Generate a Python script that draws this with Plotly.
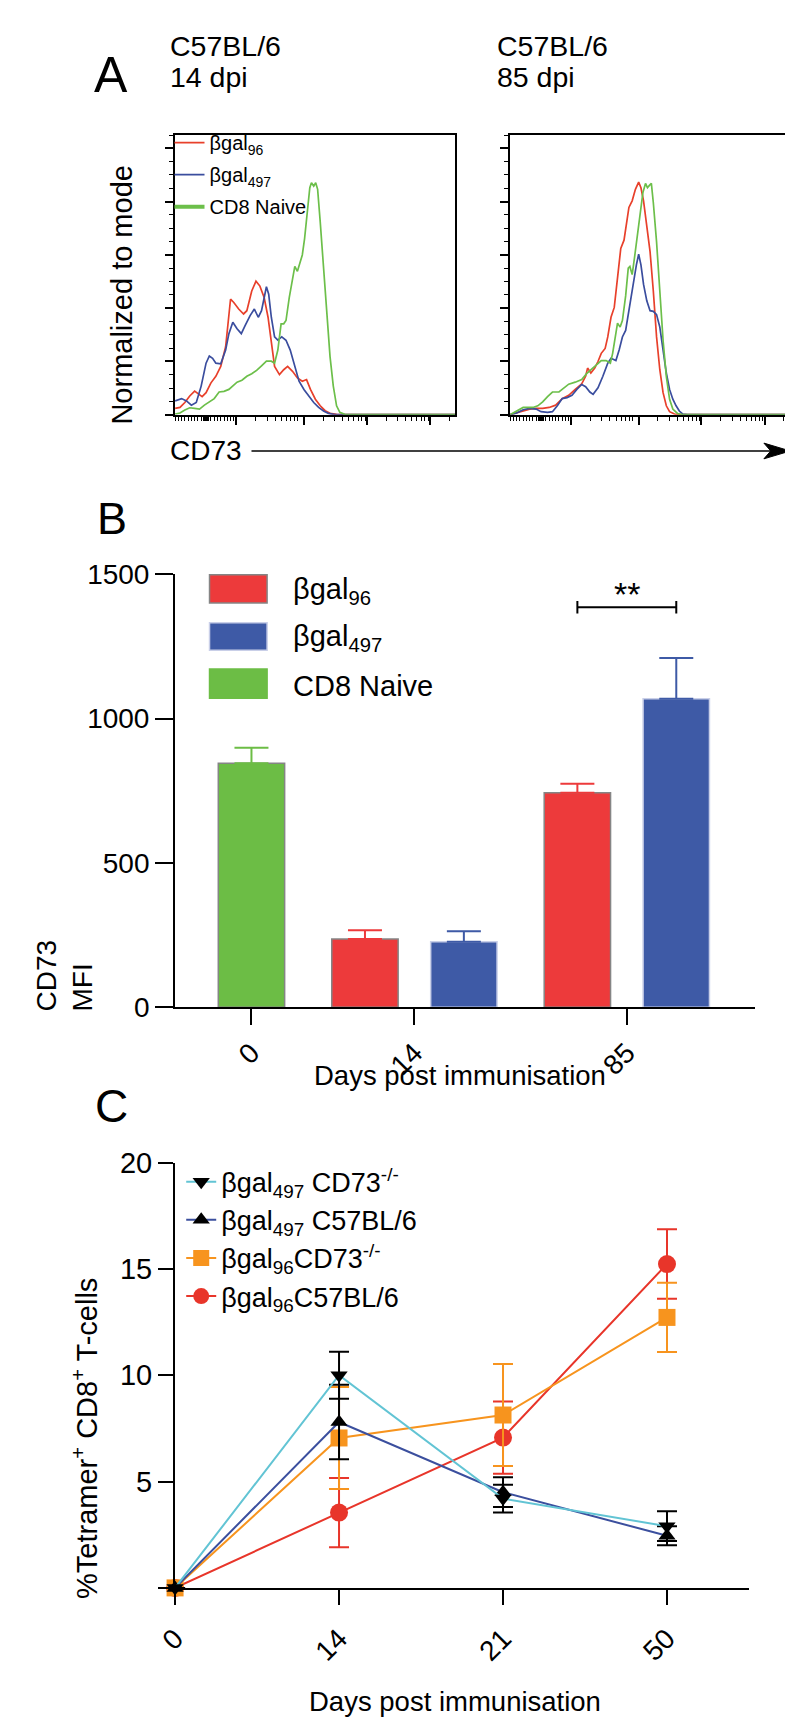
import math
import plotly.graph_objects as go

FONT = "Arial, 'Liberation Sans', Helvetica, sans-serif"
W, H = 793, 1734


def px(x):
    return x / W


def py(y):
    return 1 - y / H


# ---------------- Panel A : CD73 histograms (channel, events normalised) ----------------
a14_red_ch = [0, 15, 30, 45, 60, 70, 83, 95, 110, 125, 140, 155, 170, 180, 195, 210, 220, 235, 248, 260,
              273, 285, 295, 305, 320, 333, 345, 360, 375, 390, 403, 415, 430, 445, 460, 475, 495, 515, 858]
a14_red_ct = [19, 22, 37, 57, 72, 65, 55, 67, 97, 117, 147, 207, 352, 342, 322, 307, 317, 377, 407, 392,
              357, 297, 227, 147, 122, 137, 147, 132, 112, 102, 107, 77, 47, 27, 12, 4, 1, 0, 0]
a14_blue_ch = [0, 20, 35, 50, 65, 80, 95, 105, 115, 125, 140, 155, 165, 177, 190, 203, 215, 230, 243, 255,
               265, 273, 280, 287, 295, 305, 315, 327, 340, 353, 365, 380, 395, 410, 425, 440, 455, 470, 490, 858]
a14_blue_ct = [42, 49, 42, 29, 37, 87, 157, 179, 172, 157, 155, 197, 247, 282, 262, 247, 272, 302, 322, 297,
               317, 357, 390, 367, 297, 237, 227, 237, 227, 197, 157, 102, 77, 57, 37, 22, 11, 4, 0, 0]
a14_green_ch = [0, 15, 30, 45, 60, 75, 90, 105, 120, 135, 150, 165, 177, 190, 205, 220, 235, 250, 265, 280,
                295, 305, 315, 325, 333, 340, 350, 360, 367, 375, 383, 390, 397, 405, 413, 418, 425, 431, 437, 445,
                455, 465, 475, 485, 495, 505, 520, 535, 858]
a14_green_ct = [2, 5, 14, 21, 19, 17, 29, 39, 49, 69, 71, 77, 89, 99, 105, 117, 125, 135, 149, 163,
                163, 157, 197, 277, 277, 287, 357, 407, 452, 437, 467, 487, 537, 627, 692, 707, 697, 707, 687, 587,
                457, 317, 177, 87, 27, 7, 1, 0, 0]

a85_red_ch = [0, 20, 40, 60, 80, 100, 120, 140, 160, 180, 200, 220, 232, 238, 248, 260, 270, 280, 292, 300,
              310, 320, 330, 340, 350, 358, 365, 375, 385, 395, 402, 410, 420, 430, 440, 450, 460, 470, 480, 490,
              505, 520, 860]
a85_red_ct = [0, 5, 11, 17, 19, 19, 22, 29, 49, 59, 77, 94, 117, 142, 127, 142, 162, 187, 202, 237,
              297, 327, 417, 507, 532, 587, 632, 652, 687, 709, 692, 652, 567, 497, 377, 237, 137, 67, 27, 9,
              2, 0, 0]
a85_blue_ch = [0, 20, 40, 60, 80, 95, 115, 130, 145, 160, 175, 190, 205, 220, 232, 245, 255, 270, 285, 300,
               310, 325, 335, 345, 355, 365, 375, 382, 388, 395, 402, 410, 420, 430, 440, 450, 460, 470, 480, 490,
               500, 510, 520, 530, 545, 860]
a85_blue_ct = [0, 5, 15, 19, 17, 9, 7, 9, 27, 49, 52, 59, 77, 92, 85, 69, 62, 82, 117, 157,
               172, 165, 197, 237, 257, 317, 372, 427, 457, 489, 457, 397, 347, 317, 315, 305, 267, 197, 127, 77,
               47, 27, 11, 2, 0, 0]
a85_green_ch = [0, 20, 40, 55, 70, 85, 100, 115, 130, 150, 165, 180, 200, 220, 235, 250, 265, 280, 295, 308,
                315, 325, 330, 338, 345, 355, 363, 368, 375, 382, 390, 400, 408, 416, 422, 428, 434, 440, 450, 460,
                470, 480, 490, 500, 515, 530, 860]
a85_green_ct = [0, 11, 22, 22, 22, 27, 39, 55, 69, 69, 82, 93, 99, 107, 125, 139, 152, 165, 165, 157,
                187, 257, 279, 267, 287, 362, 447, 452, 427, 477, 537, 607, 677, 705, 692, 699, 705, 647, 527, 377,
                227, 117, 47, 17, 3, 0, 0]

hist_legend = ["βgal<sub>96</sub>", "βgal<sub>497</sub>", "CD8 Naive"]

# ---------------- Panel B : CD73 MFI ----------------
days_B = ["0", "14", "85"]
mfi_b96 = [None, 236, 743]
sem_b96 = [None, 31, 31]
mfi_b497 = [None, 227, 1069]
sem_b497 = [None, 36, 141]
mfi_naive = [845, None, None]
sem_naive = [54, None, None]
sig_label = "**"
sig_y = 1386

# ---------------- Panel C : tetramer+ kinetics ----------------
days_C = ["0", "14", "21", "50"]
tet_b497_ko = [0, 10.0, 4.2, 2.9]
err_b497_ko = [None, 1.1, 0.65, 0.7]
tet_b497_wt = [0, 7.8, 4.5, 2.45]
err_b497_wt = [None, 1.75, 0.7, 0.45]
tet_b96_ko = [0, 7.05, 8.13, 12.72]
err_b96_ko = [None, 2.4, 2.4, 1.63]
tet_b96_wt = [0, 3.54, 7.07, 15.23]
err_b96_wt = [None, 1.63, 1.7, 1.63]

# ---------------- colours ----------------
H_RED, H_BLUE, H_GREEN = "#e8402b", "#3a4d9e", "#6cbf4a"
B_RED, B_BLUE, B_GREEN = "#ed3a3b", "#3e5aa6", "#6cbd45"
C_CYAN, C_NAVY, C_ORANGE, C_RED = "#62c4d4", "#3b4f9e", "#f7941e", "#e8352a"

fig = go.Figure()

# ---------- Panel A traces ----------
hist_groups = ["g96", "g497", "naive"]
hist_sets = [
    ("x", "y", [(a14_red_ch, a14_red_ct, H_RED), (a14_blue_ch, a14_blue_ct, H_BLUE),
                (a14_green_ch, a14_green_ct, H_GREEN)], True),
    ("x2", "y2", [(a85_red_ch, a85_red_ct, H_RED), (a85_blue_ch, a85_blue_ct, H_BLUE),
                  (a85_green_ch, a85_green_ct, H_GREEN)], False),
]
for xa, ya, curves, first in hist_sets:
    for i, (ch, ct, col) in enumerate(curves):
        fig.add_trace(go.Scatter(
            x=ch, y=ct, mode="lines", line=dict(color=col, width=1.7),
            xaxis=xa, yaxis=ya, name=hist_legend[i], legendgroup=hist_groups[i],
            showlegend=(first and i < 2), legend="legend", cliponaxis=True,
            hoverinfo="skip"))
# legend entry for the naive population (drawn thicker in the key)
fig.add_trace(go.Scatter(x=[None], y=[None], mode="lines", line=dict(color=H_GREEN, width=4),
                         xaxis="x", yaxis="y", name=hist_legend[2], legendgroup=hist_groups[2],
                         showlegend=True, legend="legend"))

# ---------- Panel B traces ----------
bar_w, gap_in, gap_out = 1.0, 0.49, 0.71
series_B = [
    ("βgal<sub>96</sub>", mfi_b96, sem_b96, B_RED, "#858585"),
    ("βgal<sub>497</sub>", mfi_b497, sem_b497, B_BLUE, "#c9cfe8"),
    ("CD8 Naive", mfi_naive, sem_naive, B_GREEN, "#858585"),
]
pos = 0.0
centers = {}
tick_pos_B = []
for ci in range(len(days_B)):
    present = [si for si, s in enumerate(series_B) if s[1][ci] is not None]
    start = pos
    for k, si in enumerate(present):
        if k > 0:
            pos += gap_in
        centers[(si, ci)] = pos + bar_w / 2
        pos += bar_w
    tick_pos_B.append((start + pos) / 2)
    pos += gap_out

for si, (name, vals, errs, fill, edge) in enumerate(series_B):
    idx = [ci for ci in range(len(days_B)) if vals[ci] is not None]
    fig.add_trace(go.Bar(
        x=[centers[(si, ci)] for ci in idx], y=[vals[ci] for ci in idx], width=bar_w,
        marker=dict(color=fill, line=dict(color=edge, width=1.5)),
        error_y=dict(type="data", symmetric=False, array=[errs[ci] for ci in idx],
                     arrayminus=[0 for _ in idx], color=fill, thickness=2, width=17),
        xaxis="x3", yaxis="y3", showlegend=False, name=name, hoverinfo="y"))

# ---------- Panel C traces (drawn red first so the triangles sit on top) ----------
series_C = [
    ("βgal<sub>497</sub> CD73<sup>-/-</sup>", tet_b497_ko, err_b497_ko, C_CYAN, "triangle-down", "black", "black", 15),
    ("βgal<sub>497</sub> C57BL/6", tet_b497_wt, err_b497_wt, C_NAVY, "triangle-up", "black", "black", 15),
    ("βgal<sub>96</sub>CD73<sup>-/-</sup>", tet_b96_ko, err_b96_ko, C_ORANGE, "square", C_ORANGE, C_ORANGE, 17),
    ("βgal<sub>96</sub>C57BL/6", tet_b96_wt, err_b96_wt, C_RED, "circle", C_RED, C_RED, 18),
]
xC = list(range(len(days_C)))
for name, vals, errs, lc, sym, mc, ec, ms in reversed(series_C):
    fig.add_trace(go.Scatter(
        x=xC, y=vals, mode="lines+markers", name=name,
        line=dict(color=lc, width=2),
        marker=dict(symbol=sym, color=mc, size=ms, line=dict(width=0)),
        error_y=dict(type="data", array=errs, color=ec, thickness=2, width=10),
        xaxis="x4", yaxis="y4", legend="legend2", cliponaxis=False))

# ---------- axes ----------
hist_major = [188, 395, 588, 782]
decade = 197
hist_minor = list(range(0, 181, 10)) + [86, 89, 92, 95, 98, 101, 104]
for m in hist_major:
    for k in range(2, 10):
        v = m + decade * math.log10(k)
        if v < 858:
            hist_minor.append(v)

hist_x = dict(showline=True, mirror=True, linecolor="black", linewidth=2, showgrid=False, zeroline=False,
              ticks="outside", tickmode="array", tickvals=hist_major, ticklen=8, tickwidth=1.5,
              tickcolor="black", showticklabels=False,
              minor=dict(tickmode="array", tickvals=hist_minor, ticks="outside", ticklen=4,
                         tickwidth=1.2, tickcolor="black", showgrid=False))
hist_y = dict(showline=True, mirror=True, linecolor="black", linewidth=2, showgrid=False, zeroline=False,
              range=[0, 853], ticks="outside", tick0=0, dtick=162.4, ticklen=8, tickwidth=1.5,
              tickcolor="black", showticklabels=False,
              minor=dict(ticks="outside", dtick=40.6, tick0=0, ticklen=4, tickwidth=1.2,
                         tickcolor="black", showgrid=False))

fig.update_layout(
    xaxis=dict(domain=[px(151.7), px(438.5)], range=[0, 858], anchor="y", **hist_x),
    yaxis=dict(domain=[py(398), py(113)], anchor="x", **hist_y),
    xaxis2=dict(domain=[px(495), px(781.7)], range=[0, 860], anchor="y2", **hist_x),
    yaxis2=dict(domain=[py(398), py(113)], anchor="x2", **hist_y),
    xaxis3=dict(domain=[px(151.7), px(746)], range=[-0.651, 8.088], anchor="y3",
                showline=True, linecolor="black", linewidth=2, showgrid=False, zeroline=False,
                ticks="outside", ticklen=16, tickwidth=2, tickcolor="black",
                tickmode="array", tickvals=tick_pos_B, ticktext=days_B, tickangle=-45,
                tickfont=dict(family=FONT, size=28, color="black")),
    yaxis3=dict(domain=[py(1001.7), py(560.7)], range=[0, 1500], anchor="x3",
                showline=True, linecolor="black", linewidth=2, showgrid=False, zeroline=False,
                ticks="outside", ticklen=18, tickwidth=2, tickcolor="black",
                tickmode="array", tickvals=[0, 500, 1000, 1500],
                tickfont=dict(family=FONT, size=28, color="black")),
    xaxis4=dict(domain=[px(151.7), px(739.7)], range=[0, 3.5], anchor="y4",
                showline=True, linecolor="black", linewidth=2, showgrid=False, zeroline=False,
                ticks="outside", ticklen=15, tickwidth=2, tickcolor="black",
                tickmode="array", tickvals=xC, ticktext=days_C, tickangle=-45, ticklabelstandoff=6,
                tickfont=dict(family=FONT, size=28, color="black")),
    yaxis4=dict(domain=[py(1593.3), py(1160)], range=[0, 20], anchor="x4",
                showline=True, linecolor="black", linewidth=2, showgrid=False, zeroline=False,
                ticks="outside", ticklen=15, tickwidth=2, tickcolor="black",
                tickmode="array", tickvals=[0, 5, 10, 15, 20], ticktext=["", "5", "10", "15", "20"],
                tickfont=dict(family=FONT, size=29, color="black")),
)

# ---------- legends ----------
fig.update_layout(
    legend=dict(x=px(146), y=py(101), xanchor="left", yanchor="top", bgcolor="rgba(0,0,0,0)",
                font=dict(family=FONT, size=20, color="black"), tracegroupgap=3, itemwidth=30,
                traceorder="grouped"),
    legend2=dict(x=px(158), y=py(1155), xanchor="left", yanchor="top", bgcolor="rgba(0,0,0,0)",
                 font=dict(family=FONT, size=27, color="black"), tracegroupgap=0, itemwidth=30,
                 traceorder="reversed"),
)

shapes = []
annotations = []


def text(t, x, y, size, xanchor="left", yanchor="middle", angle=0, align="left", xref="paper", yref="paper"):
    annotations.append(dict(text=t, x=x, y=y, xref=xref, yref=yref, xanchor=xanchor, yanchor=yanchor,
                            showarrow=False, textangle=angle, align=align,
                            font=dict(family=FONT, size=size, color="black")))


# Panel A labels
text("A", px(86.5), py(51.5), 50, xanchor="center")
text("C57BL/6", px(144), py(22), 28.5)
text("14 dpi", px(144), py(54), 28.5)
text("C57BL/6", px(480), py(22), 28.5)
text("85 dpi", px(480), py(54), 28.5)
text("Normalized to mode", px(97), py(276), 29, xanchor="center", angle=-90)
text("CD73", px(144), py(435), 28)
shapes.append(dict(type="line", xref="paper", yref="paper", x0=px(230), x1=px(766), y0=py(435), y1=py(435),
                   line=dict(color="black", width=1.5)))
head = [(782, 435), (755, 427), (762, 435), (755, 443)]
path = "M" + " L".join(f"{px(a):.5f},{py(b):.5f}" for a, b in head) + " Z"
shapes.append(dict(type="path", xref="paper", yref="paper", path=path, fillcolor="black",
                   line=dict(color="black", width=1)))

# Panel B labels / legend
text("B", px(87), py(504), 45, xanchor="center")
swatches = [(561, 590), (610, 638), (657, 687)]
for (y0, y1), (name, vals, errs, fill, edge) in zip(swatches, series_B):
    shapes.append(dict(type="rect", xref="paper", yref="paper", x0=px(187), x1=px(246), y0=py(y1), y1=py(y0),
                       fillcolor=fill, line=dict(color=edge if fill != B_GREEN else fill, width=1.5)))
    text(name, px(270), py((y0 + y1) / 2 + 2), 29)
text("CD73<br>MFI", px(38), py(1008), 28, xanchor="center", yanchor="bottom", angle=-90)
text("Days post immunisation", px(444), py(1071), 27.5, xanchor="center")

# significance bracket
bx0, bx1 = centers[(0, 2)], centers[(1, 2)]
for xa, xb, ya, yb in [(bx0, bx1, sig_y, sig_y), (bx0, bx0, sig_y - 22, sig_y + 22), (bx1, bx1, sig_y - 22, sig_y + 22)]:
    shapes.append(dict(type="line", xref="x3", yref="y3", x0=xa, x1=xb, y0=ya, y1=yb,
                       line=dict(color="black", width=2)))
annotations.append(dict(text=sig_label, x=(bx0 + bx1) / 2, y=sig_y + 45, xref="x3", yref="y3",
                        xanchor="center", yanchor="middle", showarrow=False,
                        font=dict(family=FONT, size=34, color="black")))

# Panel C labels
text("C", px(87), py(1102), 46, xanchor="center")
text("%Tetramer<sup>+</sup> CD8<sup>+</sup> T-cells", px(60), py(1441), 29, xanchor="center", angle=-90)
text("Days post immunisation", px(439), py(1709), 27.5, xanchor="center")

fig.update_layout(
    width=W, height=H, margin=dict(l=0, r=0, t=0, b=0),
    paper_bgcolor="white", plot_bgcolor="white", barmode="overlay",
    font=dict(family=FONT, color="black"),
    shapes=shapes, annotations=annotations, showlegend=True,
)

fig.write_html("out.html")
